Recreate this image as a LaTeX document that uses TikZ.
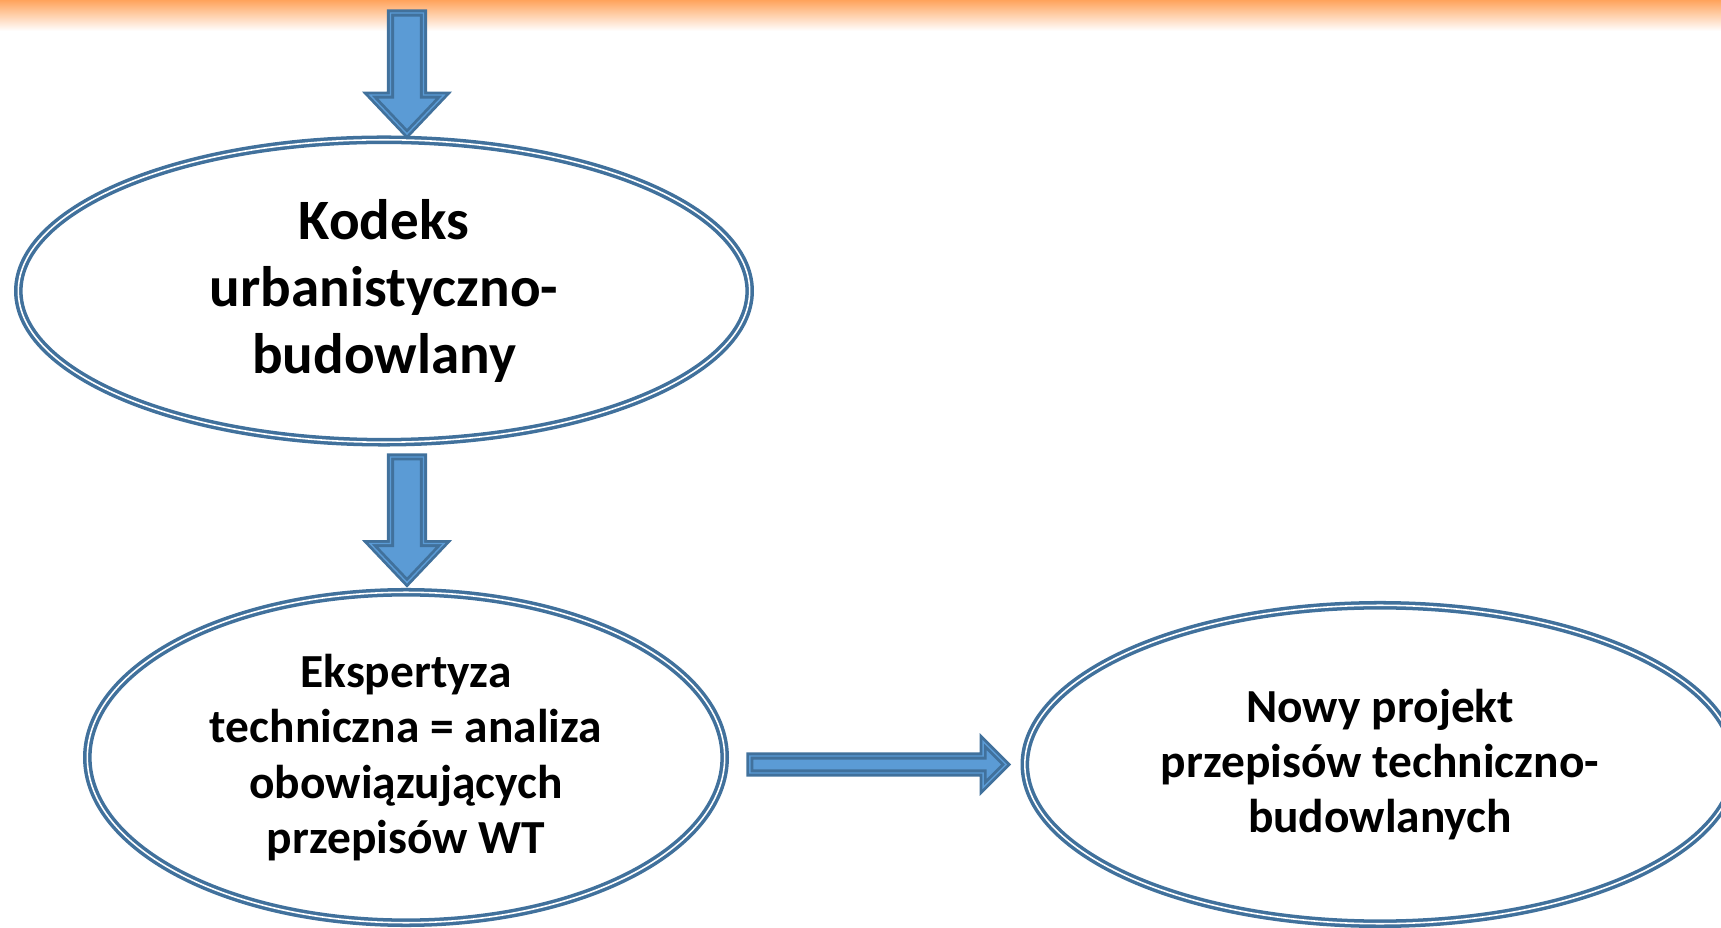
\documentclass[tikz,border=0pt]{standalone}
\usepackage{fontspec}
\setmainfont{Carlito}
\usepackage{xcolor}
\usepackage{tikz}
\usetikzlibrary{shapes.geometric, positioning, calc}

\definecolor{edgeblue}{HTML}{41719C}
\definecolor{fillblue}{HTML}{5B9BD5}
\definecolor{barorange}{HTML}{FFA35C}

% block arrows (down / right), given start and tip coordinates
\newcommand{\downblock}[2]{%
  \draw[blockarrow] ($(#1)+(-16.5,-3)$) -- ($(#1)+(16.5,-3)$) -- ($(#2)+(16.5,44)$) -- ($(#2)+(37,44)$)
    -- ($(#2)+(0,5)$) -- ($(#2)+(-37,44)$) -- ($(#2)+(-16.5,44)$) -- cycle;}
\newcommand{\rightblock}[2]{%
  \draw[blockarrow] ($(#1)+(3.5,-8.5)$) -- ($(#2)+(-28,-8.5)$) -- ($(#2)+(-28,-23)$) -- ($(#2)+(-5,0)$)
    -- ($(#2)+(-28,23)$) -- ($(#2)+(-28,8.5)$) -- ($(#1)+(3.5,8.5)$) -- cycle;}

\begin{document}
\begin{tikzpicture}[
    x=0.02cm, y=0.02cm,
    bubble/.style={ellipse, draw=edgeblue, line width=2pt, double=white, double distance=0.9pt,
      inner sep=0pt, align=center, font=\bfseries\fontsize{27}{31.5}\selectfont},
    blockarrow/.style={draw=edgeblue, fill=fillblue, line width=1.6pt, double=fillblue,
      double distance=0.8pt, line join=miter}
]
\clip (0,0) rectangle (1721,927);

% top bar
\shade[top color=barorange, bottom color=white] (0,927) rectangle (1721,896);

% Nodes
\node (kodeks) [bubble, minimum width=14.63cm, minimum height=6.05cm,
  font=\bfseries\fontsize{32.5}{38}\selectfont] at (384,636) {Kodeks\\urbanistyczno-\\budowlany};
\node (eksp) [bubble, minimum width=12.75cm, minimum height=6.61cm] at (406,169.5)
  {Ekspertyza\\techniczna = analiza\\obowiązujących\\przepisów WT};
\node (nowy) [bubble, minimum width=14.21cm, minimum height=6.37cm] at (1380,162.5)
  {Nowy projekt\\przepisów techniczno-\\budowlanych};

% Links
\coordinate (feed) at (407,917);
\coordinate (a1t) at ($(kodeks.north -| feed)+(0,-1)$);
\coordinate (a2s) at ($(kodeks.south -| feed)+(0,-10)$);
\coordinate (a2t) at ($(eksp.north -| feed)+(0,3)$);
\coordinate (a3s) at ($(eksp.east |- nowy.west)+(20,0)$);
\coordinate (a3t) at ($(nowy.west)+(-12,0)$);
\downblock{feed}{a1t}
\downblock{a2s}{a2t}
\rightblock{a3s}{a3t}

\end{tikzpicture}
\end{document}
